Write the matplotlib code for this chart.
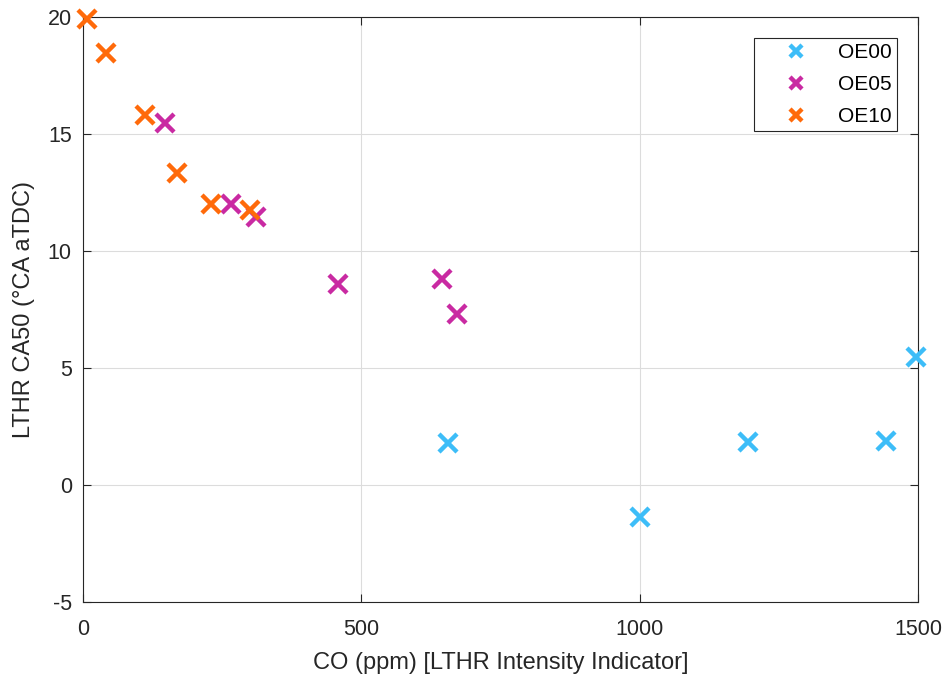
import matplotlib.pyplot as plt

plt.rcParams['font.family'] = ['Liberation Sans', 'DejaVu Sans']
plt.rcParams['axes.unicode_minus'] = False

# OE00
co_oe00 = [656, 1001, 1195, 1442, 1496]
ca50_oe00 = [1.8, -1.37, 1.84, 1.88, 5.47]
# OE05
co_oe05 = [147, 266, 311, 458, 645, 672]
ca50_oe05 = [15.47, 12.0, 11.45, 8.59, 8.8, 7.3]
# OE10
co_oe10 = [7, 41, 111, 169, 230, 300]
ca50_oe10 = [19.9, 18.46, 15.81, 13.33, 12.0, 11.75]

series = [
    ("OE00", co_oe00, ca50_oe00, "#3dbdf8"),
    ("OE05", co_oe05, ca50_oe05, "#c92aa2"),
    ("OE10", co_oe10, ca50_oe10, "#ff6a0a"),
]

fig = plt.figure(figsize=(9.47, 6.8), dpi=100)
ax = fig.add_axes([0.0876, 0.1147, 0.8818, 0.8603])

for name, x, y, c in series:
    ax.plot(x, y, linestyle="none", marker="x", markersize=13, markeredgewidth=3.2,
            color=c, label=name, clip_on=False, zorder=3)

ax.set_xlim(0, 1500)
ax.set_ylim(-5, 20)
ax.set_xticks([0, 500, 1000, 1500])
ax.set_yticks([-5, 0, 5, 10, 15, 20])
ax.grid(True, color="#dcdcdc", linewidth=0.8)
ax.set_axisbelow(True)
ax.tick_params(direction="in", length=6, width=0.8, top=True, right=True,
               labelsize=15.5, colors="#262626")
ax.tick_params(axis="x", pad=12)
ax.tick_params(axis="y", pad=8)
for s in ax.spines.values():
    s.set_color("#262626")
    s.set_linewidth(0.8)

ax.set_xlabel("CO (ppm) [LTHR Intensity Indicator]", fontsize=17, color="#262626", labelpad=9)
ax.set_ylabel("LTHR CA50 (°CA aTDC)", fontsize=17, color="#262626", labelpad=9)

leg = ax.legend(loc="upper right", fontsize=15, fancybox=False, edgecolor="#262626",
                markerscale=0.65, borderaxespad=1.0, handlelength=3.5, handletextpad=0.3,
                borderpad=0.25, labelspacing=0.62)
leg.get_frame().set_linewidth(0.8)
leg.get_frame().set_alpha(1)

fig.savefig("out.png", dpi=100)
